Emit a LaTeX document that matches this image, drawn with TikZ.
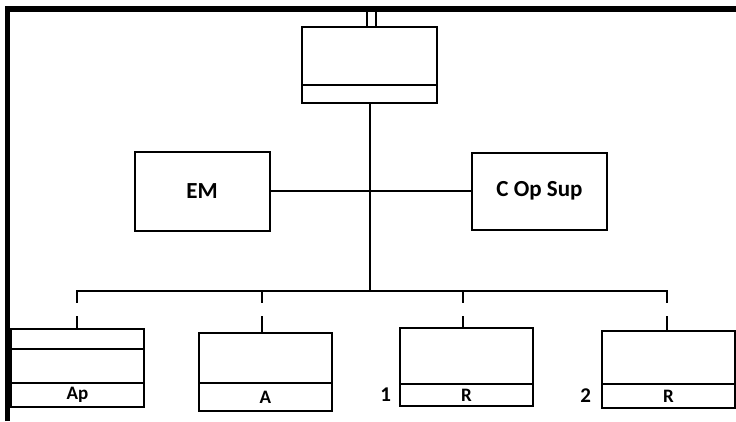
\documentclass[tikz,border=0pt]{standalone}
\usepackage{fontspec}
\setmainfont{Carlito}
\usetikzlibrary{positioning}

\begin{document}
\begin{tikzpicture}[x=1pt, y=-1pt, line width=2pt,
  box/.style={draw, line width=2pt, inner sep=0pt, outer sep=0pt, minimum width=135pt, font=\bfseries\fontsize{23}{27}\selectfont},
  sect/.style={box, minimum width=133pt, font=\bfseries\fontsize{19}{22}\selectfont},
  num/.style={inner sep=0pt, font=\bfseries\fontsize{21}{24}\selectfont},
  drop/.style={line width=2.2pt, dash pattern=on 12pt off 13pt on 60pt}]

  \useasboundingbox (0,0) rectangle (736,421);

  % Frame
  \draw[line width=5.5pt] (7.5,421) -- (7.5,9) -- (736,9);

  % Top box
  \node[box, minimum height=58] (head) at (369.5,56) {};
  \node[box, minimum height=18, below=0pt of head] (headb) {};
  \coordinate (inL) at (367,12);
  \coordinate (inR) at (376,12);
  \draw (inL) -- (inL |- head.north);
  \draw (inR) -- (inR |- head.north);

  % Staff boxes
  \node[box, minimum height=79] (EM) at (202,191) {EM};
  \node[box, minimum height=77] (COS) at (539.5,191) {C Op Sup};
  \draw (EM) -- (COS);

  % Trunk and bus
  \coordinate (bus) at (369.5,291);
  \coordinate (b1) at (77,291);
  \coordinate (b2) at (262,291);
  \coordinate (b3) at (463,291);
  \coordinate (b4) at (667,291);
  \draw (headb.south) -- (bus);
  \draw[line cap=rect] (b1) -- (b4);

  % Bottom boxes
  \node[sect, minimum height=20] (Ap1) at (77.5,339) {};
  \node[sect, minimum height=34, below=0pt of Ap1] (Ap2) {};
  \node[sect, minimum height=24, below=0pt of Ap2] (Ap3) {Ap};

  \node[sect, minimum height=50] (A1) at (265.5,358) {};
  \node[sect, minimum height=28, below=0pt of A1] (A2) {A};

  \node[sect, minimum height=56] (R1) at (466.5,356) {};
  \node[sect, minimum height=22, below=0pt of R1] (R1b) {R};
  \node[num, left=8pt of R1b] (n1) {1};

  \node[sect, minimum height=53] (R2) at (668.5,357.5) {};
  \node[sect, minimum height=24, below=0pt of R2] (R2b) {R};
  \node[num, left=10pt of R2b] (n2) {2};

  % Drops
  \draw[drop] (b1) -- (b1 |- Ap1.north);
  \draw[drop] (b2) -- (b2 |- A1.north);
  \draw[drop] (b3) -- (b3 |- R1.north);
  \draw[drop] (b4) -- (b4 |- R2.north);

\end{tikzpicture}
\end{document}
